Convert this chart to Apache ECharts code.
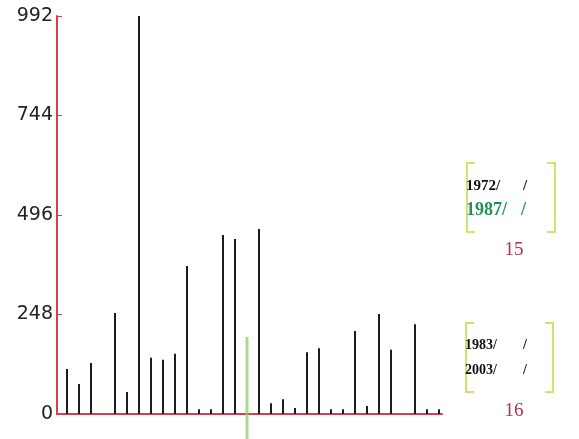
<!DOCTYPE html>
<html>
<head>
<meta charset="utf-8">
<script src="https://cdn.jsdelivr.net/npm/echarts@6/dist/echarts.min.js"></script>
<style>
  html, body { margin: 0; padding: 0; background: #fff; }
  #chart { width: 579px; height: 439px; }
</style>
</head>
<body>
<div id="chart"></div>
<script>
// Yearly counts, 1972 - 2003
const years = [1972, 1973, 1974, 1975, 1976, 1977, 1978, 1979, 1980, 1981,
               1982, 1983, 1984, 1985, 1986, 1987, 1988, 1989, 1990, 1991,
               1992, 1993, 1994, 1995, 1996, 1997, 1998, 1999, 2000, 2001,
               2002, 2003];
const values = [112, 75, 127, 0, 252, 55, 992, 140, 135, 150,
                369, 12, 12, 446, 436, 192, 461, 27, 37, 15,
                154, 164, 12, 12, 207, 20, 249, 160, 0, 224,
                12, 12];
const highlightYear = 1987;
const yTicks = [0, 248, 496, 744, 992];

// Side annotations: two year ranges with their counts
const rangeA = ['1972/', '1987/'];
const countA = '15';
const rangeB = ['1983/', '2003/'];
const countB = '16';

const axisRed = '#d2404f';
const bracketColor = '#d6e06a';

const normalData = years.map((y, i) => [y, y === highlightYear ? null : values[i]]);
const highlightData = years
  .map((y, i) => [y, values[i]])
  .filter(d => d[0] === highlightYear);

function bracket(x, y1, y2, dir) {
  return {
    type: 'polyline',
    shape: { points: [[x + dir * 8, y1], [x, y1], [x, y2], [x + dir * 8, y2]] },
    style: { stroke: bracketColor, lineWidth: 2, fill: null }
  };
}
function label(text, x, y, font, color) {
  return {
    type: 'text', x: x, y: y,
    style: { text: text, font: font, fill: color, textVerticalAlign: 'middle' }
  };
}
function centered(text, x, y, font, color) {
  return {
    type: 'text', x: x, y: y,
    style: { text: text, font: font, fill: color, textAlign: 'center', textVerticalAlign: 'middle' }
  };
}

const chart = echarts.init(document.getElementById('chart'), null, { renderer: 'canvas' });
chart.setOption({
  animation: false,
  backgroundColor: '#fff',
  grid: { left: 57, right: 137, top: 16, bottom: 25 },
  xAxis: {
    type: 'value',
    min: years[0] - 10 / 12,
    max: years[years.length - 1] + 0.25,
    axisLine: { show: true, lineStyle: { color: axisRed, width: 2 } },
    axisTick: { show: false },
    axisLabel: { show: false },
    splitLine: { show: false }
  },
  yAxis: {
    type: 'value',
    min: yTicks[0],
    max: yTicks[yTicks.length - 1],
    interval: yTicks[1] - yTicks[0],
    axisLine: { show: true, lineStyle: { color: axisRed, width: 2 } },
    axisTick: { show: true, inside: true, length: 5, lineStyle: { color: axisRed, width: 1 } },
    axisLabel: { color: '#222', fontSize: 19, fontFamily: 'DejaVu Sans', margin: 4 },
    splitLine: { show: false }
  },
  series: [
    {
      type: 'bar',
      data: normalData,
      barWidth: 2,
      itemStyle: { color: '#1c1c1c' },
      z: 3
    },
    {
      type: 'custom',
      clip: false,
      data: highlightData,
      z: 4,
      renderItem: function (params, api) {
        const top = api.coord([api.value(0), api.value(1)]);
        const base = api.coord([api.value(0), 0]);
        return {
          type: 'rect',
          shape: { x: top[0] - 1.5, y: top[1], width: 3, height: base[1] - top[1] + 26 },
          style: { fill: 'rgba(140, 205, 110, 0.75)' }
        };
      }
    }
  ],
  graphic: [
    bracket(467, 163, 232, 1),
    bracket(555, 163, 232, -1),
    label(rangeA[0], 466, 186, 'bold 15px "Liberation Serif"', '#111'),
    label('/', 523, 186, 'bold 15px "Liberation Serif"', '#111'),
    label(rangeA[1], 466, 210, 'bold 18px "Liberation Serif"', '#239156'),
    label('/', 521, 210, 'bold 18px "Liberation Serif"', '#239156'),
    centered(countA, 514, 250, '19px "Liberation Serif"', '#b8303e'),

    bracket(466, 323, 392, 1),
    bracket(553, 323, 392, -1),
    label(rangeB[0], 465, 345, 'bold 14px "Liberation Serif"', '#111'),
    label('/', 523, 345, 'bold 14px "Liberation Serif"', '#111'),
    label(rangeB[1], 465, 370, 'bold 14px "Liberation Serif"', '#111'),
    label('/', 523, 370, 'bold 14px "Liberation Serif"', '#111'),
    centered(countB, 514, 411, '19px "Liberation Serif"', '#b8303e')
  ]
});
</script>
</body>
</html>
